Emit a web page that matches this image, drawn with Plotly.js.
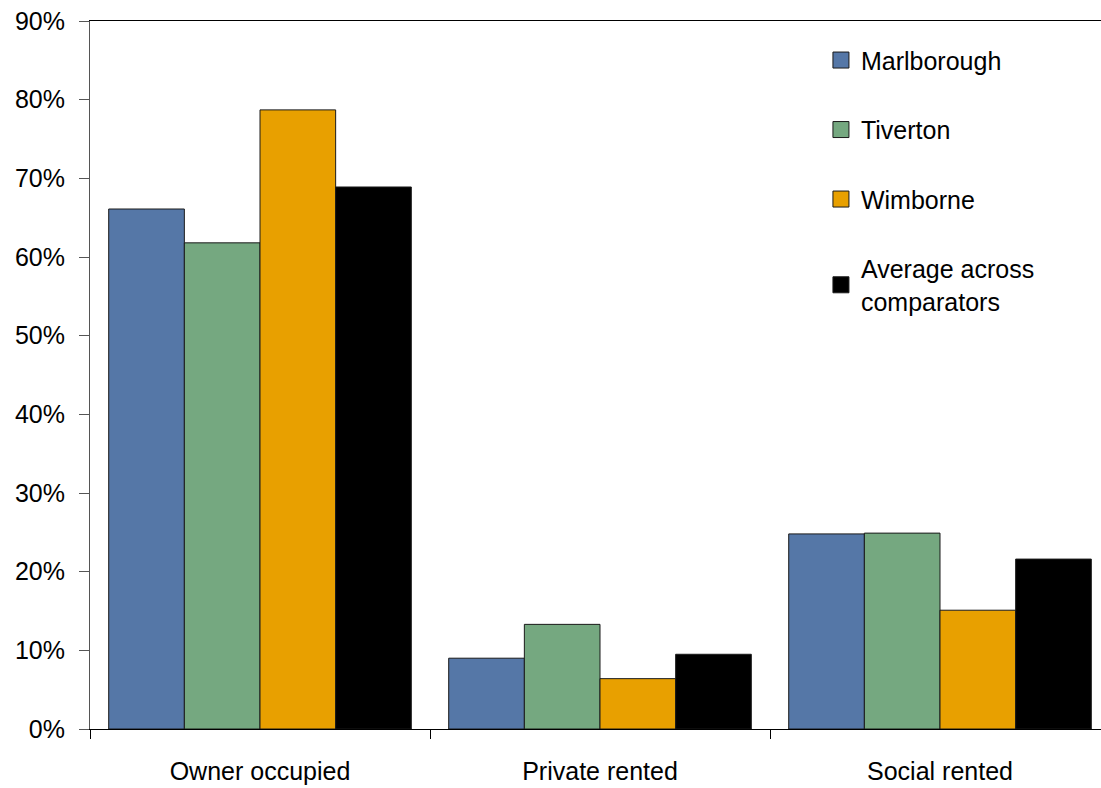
<!DOCTYPE html>
<html>
<head>
<meta charset="utf-8">
<script src="https://cdn.plot.ly/plotly-3.0.1.min.js"></script>
<style>
  html, body { margin: 0; padding: 0; background: #fff; }
  #chart { width: 1101px; height: 788px; }
</style>
</head>
<body>
<div id="chart"></div>
<script>
// Housing tenure share by town (percent of households)
const categories = ['Owner occupied', 'Private rented', 'Social rented'];
const seriesNames = ['Marlborough', 'Tiverton', 'Wimborne', 'Average across<br>comparators'];
const marlborough = [66.1, 9.0, 24.8];
const tiverton = [61.8, 13.3, 24.9];
const wimborne = [78.7, 6.4, 15.1];
const average = [68.9, 9.5, 21.6];
const yTickValues = [0, 10, 20, 30, 40, 50, 60, 70, 80, 90];

const seriesValues = [marlborough, tiverton, wimborne, average];
const colors = ['#5577A7', '#75A880', '#E8A000', '#000000'];
const FONT = 'Liberation Sans, Arial, sans-serif';
const FS = 25;

const traces = [];
// Bars
seriesValues.forEach((vals, i) => {
  traces.push({
    type: 'bar',
    x: categories,
    y: vals,
    name: seriesNames[i],
    showlegend: false,
    marker: { color: colors[i], line: { color: '#1a1a1a', width: 1 } },
    hoverinfo: 'x+y+name'
  });
});
// Legend keys (square swatches)
seriesNames.forEach((name, i) => {
  traces.push({
    type: 'scatter',
    mode: 'markers',
    x: [null],
    y: [null],
    name: name,
    legendgroup: 'g' + i,
    showlegend: true,
    marker: { symbol: 'square', size: 16, color: colors[i], line: { color: '#1a1a1a', width: 1 } }
  });
});

const layout = {
  width: 1101,
  height: 788,
  margin: { l: 90, r: 0, t: 21, b: 59, pad: 0 },
  paper_bgcolor: '#ffffff',
  plot_bgcolor: '#ffffff',
  font: { family: FONT, size: FS, color: '#000' },
  barmode: 'group',
  bargap: 0.11,
  bargroupgap: 0,
  showlegend: true,
  legend: {
    x: 0.723, y: 0.977, xanchor: 'left', yanchor: 'top',
    traceorder: 'grouped',
    tracegroupgap: 34,
    itemsizing: 'trace',
    bgcolor: 'rgba(0,0,0,0)',
    font: { family: FONT, size: FS, color: '#000' }
  },
  xaxis: {
    type: 'category',
    range: [-0.5, 2.4735],
    tickson: 'boundaries',
    ticks: 'outside',
    ticklen: 9,
    tickcolor: '#000',
    showline: true,
    linecolor: '#000',
    linewidth: 1,
    mirror: true,
    showgrid: false,
    zeroline: false,
    tickfont: { family: FONT, size: FS, color: '#000' },
    ticklabelstandoff: 20,
    fixedrange: true
  },
  yaxis: {
    range: [0, 90],
    tickvals: yTickValues,
    ticktext: yTickValues.map(v => v + '%'),
    ticks: 'outside',
    ticklen: 10,
    tickcolor: '#555',
    showline: true,
    linecolor: '#555',
    linewidth: 1,
    showgrid: false,
    zeroline: false,
    tickfont: { family: FONT, size: FS, color: '#000' },
    ticklabelstandoff: 9,
    fixedrange: true
  }
};

Plotly.newPlot('chart', traces, layout, { displayModeBar: false, staticPlot: true });
</script>
</body>
</html>
